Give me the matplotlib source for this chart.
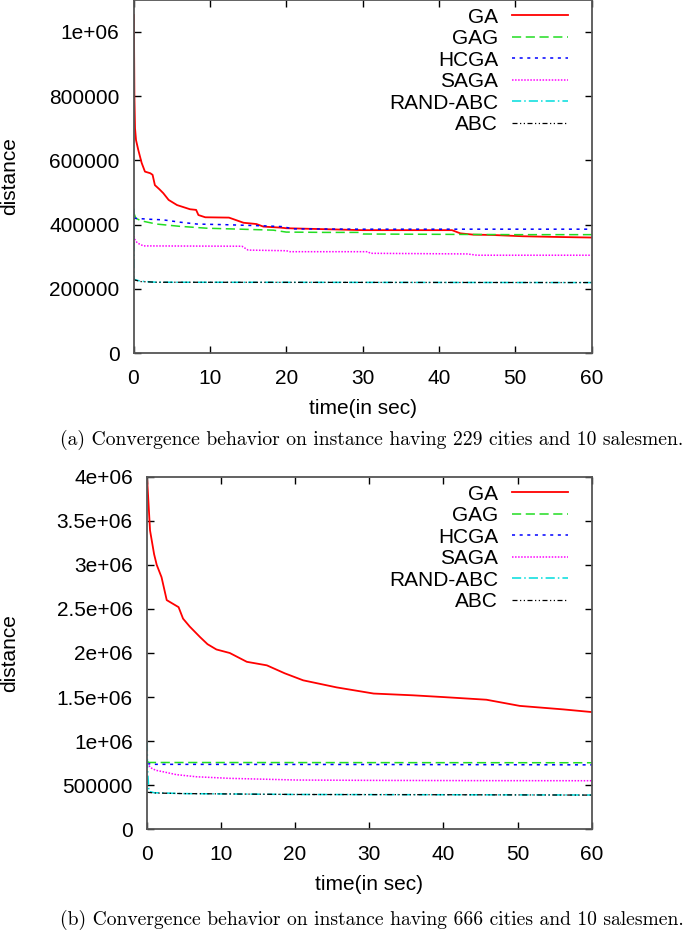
import numpy as np
import matplotlib
matplotlib.use("Agg")
import matplotlib.pyplot as plt
from matplotlib.ticker import FuncFormatter

plt.rcParams['font.family'] = ['Liberation Sans', 'DejaVu Sans']

names = ["GA", "GAG", "HCGA", "SAGA", "RAND-ABC", "ABC"]

# (a) 229 cities, 10 salesmen
ga_t_a = [0.07, 0.08, 0.12, 0.2, 0.33, 0.63, 1.07, 1.5, 2.2, 2.5, 2.8, 3.4, 3.9, 4.6, 5.7, 7.4, 8.2, 8.5, 9.4,
          12.5, 13.1, 14.4, 16.1, 17.0, 19.2, 20, 25, 30, 35, 41.7, 42.8, 44.5, 47, 51, 55, 60]
ga_v_a = [1052000, 943000, 798000, 700000, 663000, 632000, 592000, 565000, 560000, 555000, 523000, 510000,
          498000, 477000, 461000, 448000, 446000, 430000, 423000, 422000, 417000, 406000, 402000, 394000,
          391000, 389000, 386000, 383000, 383000, 383000, 373000, 369000, 368000, 364000, 362000, 360000]
gag_t_a = [0.07, 0.3, 1, 3, 6, 9.6, 14, 18.3, 20, 25, 29.5, 30.1, 40, 50, 60]
gag_v_a = [435000, 420000, 412000, 402000, 395000, 389000, 386000, 383000, 377000, 376000, 376000, 371000,
           370000, 369000, 369000]
hcga_t_a = [0.07, 2, 3.9, 6, 8.3, 12, 17.5, 19.5, 20.5, 21, 30, 40, 50, 60]
hcga_v_a = [420000, 417000, 415000, 408000, 402000, 400000, 396000, 394000, 389000, 387000, 386000, 386000,
            386000, 386000]
saga_t_a = [0.07, 0.15, 0.5, 1.3, 14.2, 15, 20, 20.5, 30.7, 31, 43.7, 45, 60]
saga_v_a = [365000, 355000, 343000, 334000, 333000, 321000, 319000, 316000, 316000, 311000, 309000, 305000,
            305000]
rand_t_a = [0.07, 0.09, 0.15, 1, 3, 60]
rand_v_a = [450000, 232000, 229000, 224000, 221000, 220000]
abc_t_a = [0.07, 0.15, 1, 3, 60]
abc_v_a = [232000, 228000, 223000, 221000, 220000]

# (b) 666 cities, 10 salesmen
ga_t_b = [0.07, 0.45, 1.0, 1.35, 2.0, 2.7, 3.5, 4.3, 4.9, 5.8, 7.2, 8.2, 9.4, 11.2, 13.5, 16.2, 18.6, 21.1,
          25.6, 30.6, 35.9, 40, 45.8, 50.3, 56.2, 60]
ga_v_b = [3960000, 3390000, 3120000, 3000000, 2860000, 2600000, 2560000, 2520000, 2390000, 2300000, 2180000,
          2100000, 2040000, 2000000, 1900000, 1860000, 1770000, 1690000, 1610000, 1540000, 1520000, 1500000,
          1470000, 1400000, 1360000, 1330000]
gag_t_b = [0.07, 0.3, 60]
gag_v_b = [770000, 758000, 755000]
hcga_t_b = [0.07, 1, 30, 60]
hcga_v_b = [745000, 737000, 735000, 731000]
saga_t_b = [0.07, 0.5, 1.2, 2.2, 4, 6.7, 11.2, 15, 20.2, 30, 45, 60]
saga_v_b = [750000, 700000, 670000, 653000, 620000, 596000, 578000, 570000, 559000, 555000, 552000, 551000]
rand_t_b = [0.07, 0.1, 0.3, 1, 5, 20, 40, 60]
rand_v_b = [990000, 700000, 430000, 415000, 405000, 395000, 392000, 389000]
abc_t_b = [0.07, 0.3, 1, 5, 20, 40, 60]
abc_v_b = [420000, 418000, 412000, 405000, 395000, 392000, 388000]

captions = ["(a) Convergence behavior on instance having 229 cities and 10 salesmen.",
            "(b) Convergence behavior on instance having 666 cities and 10 salesmen."]

colors = ["#ff0000", "#22dd22", "#0000ff", "#ff00ff", "#00dddd", "#000000"]
styles = ["-", (0, (6, 3)), (0, (2, 3)), (0, (1, 1)), (0, (6, 2, 1, 2)), (0, (4, 2, 1, 2, 1, 2))]
widths = [1.3, 1.1, 1.1, 1.1, 1.1, 0.9]

W, H = 685, 930
fig = plt.figure(figsize=(W / 100, H / 100), dpi=100)

ax_a = fig.add_axes([133.5 / W, 1 - 353.3 / H, 458.2 / W, 353.7 / H])
ax_b = fig.add_axes([146.7 / W, 1 - 829.3 / H, 445.0 / W, 352.6 / H])

series_a = [(ga_t_a, ga_v_a), (gag_t_a, gag_v_a), (hcga_t_a, hcga_v_a), (saga_t_a, saga_v_a),
            (rand_t_a, rand_v_a), (abc_t_a, abc_v_a)]
series_b = [(ga_t_b, ga_v_b), (gag_t_b, gag_v_b), (hcga_t_b, hcga_v_b), (saga_t_b, saga_v_b),
            (rand_t_b, rand_v_b), (abc_t_b, abc_v_b)]

fmt = FuncFormatter(lambda v, p: "%g" % v)

for ax, series, ymax, ystep in [(ax_a, series_a, 1.1e6, 200000), (ax_b, series_b, 4e6, 500000)]:
    for (t, v), name, c, ls, lw in zip(series, names, colors, styles, widths):
        ax.plot(t, v, color=c, linestyle=ls, linewidth=lw, label=name)
    ax.set_xlim(0, 60)
    ax.set_ylim(0, ymax)
    ax.set_xticks(np.arange(0, 61, 10))
    ax.set_yticks(np.arange(0, ymax + 1, ystep))
    ax.yaxis.set_major_formatter(fmt)
    ax.tick_params(direction="in", length=5, width=1, top=True, right=True,
                   labelsize=15, pad=10, colors="black")
    ax.tick_params(axis="x", pad=11)
    for s in ax.spines.values():
        s.set_color("#555555")
        s.set_linewidth(1.3)
    ax.set_xlabel("time(in sec)", fontsize=15, labelpad=8)
    ax.set_ylabel("distance", fontsize=15, va="center")
    ax.legend(loc="upper right", frameon=False, markerfirst=False,
              fontsize=15, handlelength=2.7, handletextpad=0.65, labelspacing=0.12,
              borderaxespad=0.0, borderpad=0.0)

# y label positions
ax_a.yaxis.set_label_coords((10 - 133.5) / 458.2, 0.5)
ax_b.yaxis.set_label_coords((10 - 146.7) / 445.0, 0.5)

# legend placement
ax_a.get_legend().set_bbox_to_anchor(((568 - 133.5) / 458.2, 1 - 8 / 353.7))
ax_b.get_legend().set_bbox_to_anchor(((568 - 146.7) / 445.0, 1 - 8 / 352.6))

# captions, sized to the reference width
fig.canvas.draw()
r = fig.canvas.get_renderer()
for cap, yc in zip(captions, [440, 920]):
    t = fig.text(372 / W, 1 - yc / H, cap, family="cmr10", fontsize=13, ha="center", va="center")
    w = t.get_window_extent(r).width
    t.set_fontsize(13 * 626 / w)

fig.savefig("out.png", dpi=100)
